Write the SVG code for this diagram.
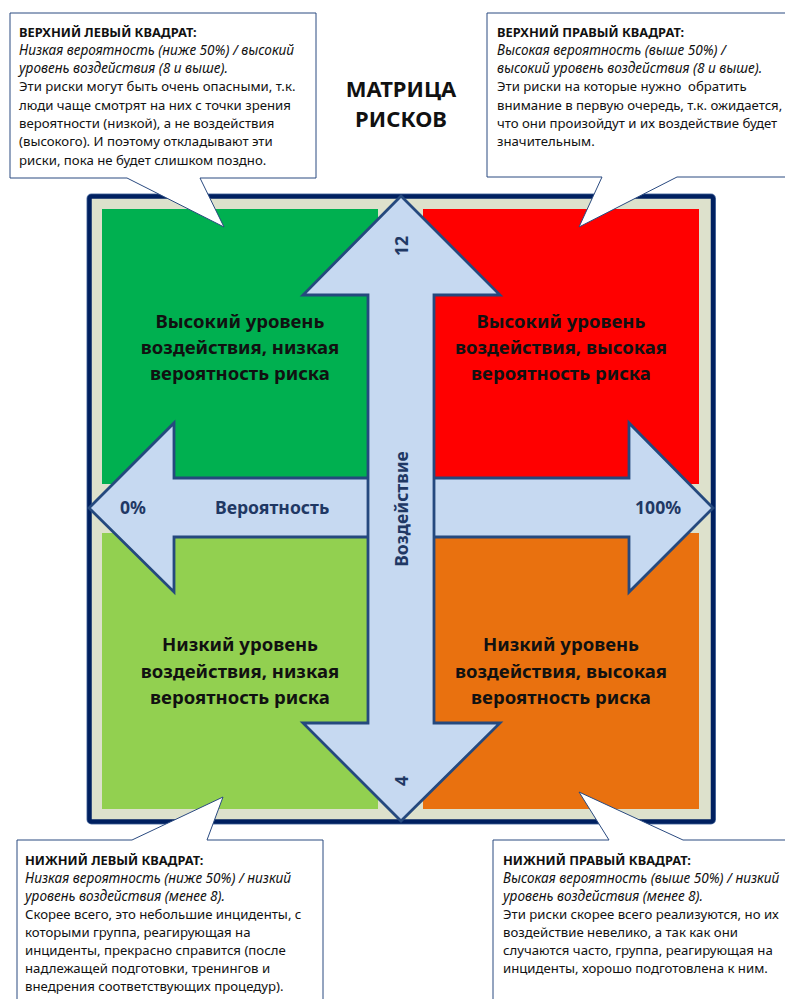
<svg xmlns="http://www.w3.org/2000/svg" width="785" height="999" viewBox="0 0 785 999">
<style>
.call{fill:#fff;stroke:#2A4A80;stroke-width:1}
.ct{font-family:"Noto Sans","Open Sans",sans-serif;font-size:13.2px;fill:#111}
.b{font-weight:bold;font-size:12.8px}
.i{font-style:italic;font-size:13.6px}
.q{font-family:"Noto Sans","Open Sans",sans-serif;font-size:18.5px;font-weight:bold;fill:#111;text-anchor:middle}
.ax{font-family:"Noto Sans","Open Sans",sans-serif;font-size:17.6px;font-weight:bold;fill:#1F3864}
.arrow{fill:#C6D9F1;stroke:#25497E;stroke-width:2.8;stroke-linejoin:miter}
.title{font-family:"Noto Sans","Open Sans",sans-serif;font-size:22px;font-weight:bold;fill:#111;text-anchor:middle}
</style>
<rect width="785" height="999" fill="#fff"/>

<g id="title">
<text class="title" x="401" y="97">МАТРИЦА</text>
<text class="title" x="401" y="127">РИСКОВ</text>
</g>

<g id="frame">
<rect x="89.5" y="196.5" width="623.5" height="625" rx="2" fill="#DDE1CC" stroke="#5A78A8" stroke-width="6"/>
<rect x="89.5" y="196.5" width="623.5" height="625" rx="2" fill="#DDE1CC" stroke="#002060" stroke-width="4.5"/>
</g>

<g id="q-top-left">
<rect x="102" y="209" width="276" height="275" fill="#00B050"/>
<text class="q" x="240" y="328">Высокий уровень</text>
<text class="q" x="240" y="354">воздействия, низкая</text>
<text class="q" x="240" y="380">вероятность риска</text>
</g>
<g id="q-top-right">
<rect x="423" y="209" width="276" height="275" fill="#FF0000"/>
<text class="q" x="561" y="328">Высокий уровень</text>
<text class="q" x="561" y="354">воздействия, высокая</text>
<text class="q" x="561" y="380">вероятность риска</text>
</g>
<g id="q-bottom-left">
<rect x="102" y="533" width="276" height="276" fill="#92D050"/>
<text class="q" x="240" y="651">Низкий уровень</text>
<text class="q" x="240" y="678">воздействия, низкая</text>
<text class="q" x="240" y="704">вероятность риска</text>
</g>
<g id="q-bottom-right">
<rect x="423" y="533" width="276" height="276" fill="#E9710F"/>
<text class="q" x="561" y="651">Низкий уровень</text>
<text class="q" x="561" y="678">воздействия, высокая</text>
<text class="q" x="561" y="704">вероятность риска</text>
</g>

<g id="axis-probability">
<polygon class="arrow" points="89,508 174,423 174,478 629,478 629,423 713,508 629,592 629,537 174,537 174,592"/>
<text class="ax" x="120" y="514">0%</text>
<text class="ax" x="215" y="514">Вероятность</text>
<text class="ax" x="635" y="514">100%</text>
</g>

<g id="axis-impact">
<polygon class="arrow" points="401,196 500,295 434,295 434,723 500,723 401,821 303,723 368,723 368,295 303,295"/>
<text class="ax" transform="translate(408,509) rotate(-90)" text-anchor="middle">Воздействие</text>
<text class="ax" transform="translate(408,246) rotate(-90)" text-anchor="middle">12</text>
<text class="ax" transform="translate(408,781) rotate(-90)" text-anchor="middle">4</text>
</g>

<g id="callout-top-left">
<path class="call" d="M10,13 H316 V178 H200 L224,227 L127,178 H10 Z"/>
<text class="ct" x="19">
<tspan class="b" x="19" y="36.5">ВЕРХНИЙ ЛЕВЫЙ КВАДРАТ:</tspan>
<tspan class="i" x="19" y="54.8">Низкая вероятность (ниже 50%) / высокий</tspan>
<tspan class="i" x="19" y="73.1">уровень воздействия (8 и выше).</tspan>
<tspan x="19" y="91.4">Эти риски могут быть очень опасными, т.к.</tspan>
<tspan x="19" y="109.7">люди чаще смотрят на них с точки зрения</tspan>
<tspan x="19" y="128">вероятности (низкой), а не воздействия</tspan>
<tspan x="19" y="146.3">(высокого). И поэтому откладывают эти</tspan>
<tspan x="19" y="164.6">риски, пока не будет слишком поздно.</tspan>
</text>
</g>

<g id="callout-top-right">
<path class="call" d="M487,13 H800 V177 H677 L579,227 L602,177 H487 Z"/>
<text class="ct" x="497" xml:space="preserve">
<tspan class="b" x="497" y="36.5">ВЕРХНИЙ ПРАВЫЙ КВАДРАТ:</tspan>
<tspan class="i" x="497" y="54.8">Высокая вероятность (выше 50%) /</tspan>
<tspan class="i" x="497" y="73.1">высокий уровень воздействия (8 и выше).</tspan>
<tspan x="497" y="91.4">Эти риски на которые нужно  обратить</tspan>
<tspan x="497" y="109.7">внимание в первую очередь, т.к. ожидается,</tspan>
<tspan x="497" y="128">что они произойдут и их воздействие будет</tspan>
<tspan x="497" y="146.3">значительным.</tspan>
</text>
</g>

<g id="callout-bottom-left">
<path class="call" d="M17,840 H132 L223,797 L207,840 H323 V1010 H17 Z"/>
<text class="ct" x="25">
<tspan class="b" x="25" y="864.5">НИЖНИЙ ЛЕВЫЙ КВАДРАТ:</tspan>
<tspan class="i" x="25" y="882.6">Низкая вероятность (ниже 50%) / низкий</tspan>
<tspan class="i" x="25" y="900.7">уровень воздействия (менее 8).</tspan>
<tspan x="25" y="918.8">Скорее всего, это небольшие инциденты, с</tspan>
<tspan x="25" y="936.9">которыми группа, реагирующая на</tspan>
<tspan x="25" y="955">инциденты, прекрасно справится (после</tspan>
<tspan x="25" y="973.1">надлежащей подготовки, тренингов и</tspan>
<tspan x="25" y="991.2">внедрения соответствующих процедур).</tspan>
</text>
</g>

<g id="callout-bottom-right">
<path class="call" d="M493,840 H609 L579,792 L683,840 H800 V1010 H493 Z"/>
<text class="ct" x="503">
<tspan class="b" x="503" y="864.5">НИЖНИЙ ПРАВЫЙ КВАДРАТ:</tspan>
<tspan class="i" x="503" y="882.6">Высокая вероятность (выше 50%) / низкий</tspan>
<tspan class="i" x="503" y="900.7">уровень воздействия (менее 8).</tspan>
<tspan x="503" y="918.8">Эти риски скорее всего реализуются, но их</tspan>
<tspan x="503" y="936.9">воздействие невелико, а так как они</tspan>
<tspan x="503" y="955">случаются часто, группа, реагирующая на</tspan>
<tspan x="503" y="973.1">инциденты, хорошо подготовлена к ним.</tspan>
</text>
</g>
</svg>
